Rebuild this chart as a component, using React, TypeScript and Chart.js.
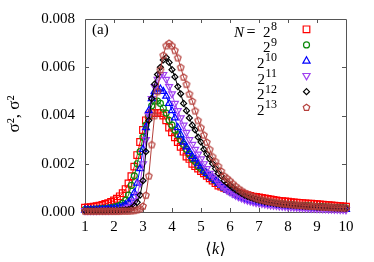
import React, { useEffect, useRef } from 'react';
import { Chart, registerables } from 'chart.js';

Chart.register(...registerables);

const kValues = [
  1.0, 1.1, 1.2, 1.3, 1.4, 1.5, 1.6, 1.7, 1.8, 1.9,
  2.0, 2.1, 2.2, 2.3, 2.4, 2.5, 2.6, 2.7, 2.8, 2.9,
  3.0, 3.1, 3.2, 3.3, 3.4, 3.5, 3.6, 3.7, 3.8, 3.9,
  4.0, 4.1, 4.2, 4.3, 4.4, 4.5, 4.6, 4.7, 4.8, 4.9,
  5.0, 5.1, 5.2, 5.3, 5.4, 5.5, 5.6, 5.7, 5.8, 5.9,
  6.0, 6.1, 6.2, 6.3, 6.4, 6.5, 6.6, 6.7, 6.8, 6.9,
  7.0, 7.1, 7.2, 7.3, 7.4, 7.5, 7.6, 7.7, 7.8, 7.9,
  8.0, 8.1, 8.2, 8.3, 8.4, 8.5, 8.6, 8.7, 8.8, 8.9,
  9.0, 9.1, 9.2, 9.3, 9.4, 9.5, 9.6, 9.7, 9.8, 9.9,
  10.0,
];

const sigmaN8 = [
  0.00018, 0.00019, 0.0002, 0.00022, 0.00024, 0.00026, 0.00029, 0.00033, 0.00037, 0.00042,
  0.00048, 0.00055, 0.00065, 0.00078, 0.00095, 0.00118, 0.00148, 0.00188, 0.00236, 0.0029,
  0.0034, 0.0038, 0.004, 0.0041, 0.0041, 0.0041, 0.0041, 0.004, 0.0038, 0.0035,
  0.0033, 0.0031, 0.0029, 0.0027, 0.0025, 0.0023, 0.0022, 0.002, 0.0019, 0.0018,
  0.0017, 0.0016, 0.0015, 0.0014, 0.0013, 0.0012, 0.0011, 0.00105, 0.001, 0.00095,
  0.0009, 0.00086, 0.00082, 0.00079, 0.00076, 0.00073, 0.0007, 0.00067, 0.00064, 0.00062,
  0.0006, 0.00058, 0.00056, 0.00054, 0.00052, 0.0005, 0.00048, 0.00046, 0.00045, 0.00044,
  0.00043, 0.00041, 0.0004, 0.00039, 0.00038, 0.00037, 0.00036, 0.00035, 0.00034, 0.00033,
  0.00032, 0.00031, 0.0003, 0.00029, 0.00028, 0.00027, 0.00026, 0.00025, 0.00024, 0.00023,
  0.00022,
];

const sigmaN9 = [
  0.0001, 0.0001, 0.00011, 0.00011, 0.00012, 0.00013, 0.00014, 0.00015, 0.00016, 0.00018,
  0.0002, 0.00023, 0.00028, 0.00036, 0.00048, 0.0007, 0.0011, 0.0015, 0.002, 0.0025,
  0.0031, 0.0036, 0.004, 0.0044, 0.0046, 0.0046, 0.0045, 0.0043, 0.0041, 0.0038,
  0.0036, 0.0034, 0.0032, 0.003, 0.0028, 0.0026, 0.0024, 0.0022, 0.0021, 0.0019,
  0.0018, 0.0017, 0.0016, 0.0015, 0.0014, 0.0013, 0.0012, 0.0011, 0.001, 0.00093,
  0.00086, 0.0008, 0.00074, 0.00069, 0.00064, 0.0006, 0.00057, 0.00054, 0.00051, 0.00048,
  0.00046, 0.00044, 0.00042, 0.0004, 0.00038, 0.00037, 0.00035, 0.00034, 0.00033, 0.00032,
  0.00031, 0.0003, 0.00029, 0.00028, 0.00027, 0.00026, 0.00025, 0.00025, 0.00024, 0.00023,
  0.00022, 0.00022, 0.00021, 0.0002, 0.0002, 0.00019, 0.00018, 0.00018, 0.00017, 0.00017,
  0.00016,
];

const sigmaN10 = [
  0.00008, 0.00008, 0.00008, 0.00009, 0.00009, 0.0001, 0.0001, 0.00011, 0.00012, 0.00013,
  0.00014, 0.00016, 0.00019, 0.00023, 0.0003, 0.0004, 0.00055, 0.0008, 0.0012, 0.0018,
  0.0026, 0.0035, 0.0042, 0.0047, 0.005, 0.0051, 0.0051, 0.005, 0.0048, 0.0045,
  0.0042, 0.0039, 0.0035, 0.0032, 0.0029, 0.0027, 0.0025, 0.0023, 0.0022, 0.002,
  0.0019, 0.0017, 0.0016, 0.0015, 0.0014, 0.0013, 0.0012, 0.0011, 0.001, 0.00092,
  0.00085, 0.00078, 0.00071, 0.00065, 0.0006, 0.00055, 0.00051, 0.00047, 0.00044, 0.00041,
  0.00039, 0.00037, 0.00035, 0.00033, 0.00031, 0.0003, 0.00029, 0.00027, 0.00026, 0.00025,
  0.00024, 0.00023, 0.00022, 0.00021, 0.00021, 0.0002, 0.00019, 0.00018, 0.00018, 0.00017,
  0.00016, 0.00016, 0.00015, 0.00015, 0.00014, 0.00014, 0.00013, 0.00013, 0.00012, 0.00012,
  0.00011,
];

const sigmaN11 = [
  0.00006, 0.00006, 0.00006, 0.00006, 0.00006, 0.00007, 0.00007, 0.00007, 0.00007, 0.00008,
  0.00008, 0.00009, 0.0001, 0.00012, 0.00015, 0.0002, 0.0003, 0.00045, 0.0007, 0.0012,
  0.002, 0.003, 0.004, 0.0047, 0.0052, 0.0055, 0.0057, 0.0057, 0.0055, 0.0052,
  0.0049, 0.0045, 0.0042, 0.0039, 0.0036, 0.0033, 0.003, 0.0028, 0.0026, 0.0024,
  0.0022, 0.002, 0.0018, 0.0016, 0.0015, 0.0014, 0.0012, 0.0011, 0.001, 0.0009,
  0.00083, 0.00076, 0.00069, 0.00063, 0.00058, 0.00053, 0.00049, 0.00045, 0.00042, 0.00039,
  0.00037, 0.00035, 0.00033, 0.00031, 0.00029, 0.00028, 0.00027, 0.00025, 0.00024, 0.00023,
  0.00022, 0.00021, 0.0002, 0.00019, 0.00018, 0.00018, 0.00017, 0.00016, 0.00015, 0.00015,
  0.00014, 0.00014, 0.00013, 0.00013, 0.00012, 0.00012, 0.00011, 0.00011, 0.0001, 0.0001,
  0.00009,
];

const sigmaN12 = [
  0.00005, 0.00005, 0.00005, 0.00005, 0.00005, 0.00005, 0.00005, 0.00005, 0.00006, 0.00006,
  0.00006, 0.00006, 0.00007, 0.00008, 0.00009, 0.0001, 0.00015, 0.00025, 0.0004, 0.0007,
  0.0013, 0.0025, 0.0038, 0.0047, 0.0053, 0.0057, 0.006, 0.0063, 0.0064, 0.0062,
  0.0059, 0.0056, 0.0052, 0.0049, 0.0045, 0.0042, 0.0039, 0.0036, 0.0034, 0.0031,
  0.0029, 0.0026, 0.0024, 0.0022, 0.002, 0.0018, 0.0016, 0.0015, 0.0013, 0.0012,
  0.0011, 0.001, 0.00092, 0.00084, 0.00077, 0.0007, 0.00065, 0.0006, 0.00056, 0.00052,
  0.00049, 0.00046, 0.00043, 0.00041, 0.00039, 0.00037, 0.00035, 0.00034, 0.00032, 0.00031,
  0.0003, 0.00029, 0.00028, 0.00027, 0.00026, 0.00025, 0.00024, 0.00023, 0.00022, 0.00022,
  0.00021, 0.0002, 0.0002, 0.00019, 0.00018, 0.00018, 0.00017, 0.00017, 0.00016, 0.00016,
  0.00015,
];

const sigmaN13 = [
  0.00004, 0.00004, 0.00004, 0.00004, 0.00004, 0.00004, 0.00004, 0.00004, 0.00004, 0.00004,
  0.00004, 0.00004, 0.00004, 0.00005, 0.00005, 0.00005, 0.00006, 0.00007, 0.0001, 0.00015,
  0.00025, 0.0007, 0.0015, 0.0028, 0.004, 0.005, 0.0059, 0.0065, 0.0069, 0.007,
  0.0069, 0.0067, 0.0064, 0.006, 0.0056, 0.0053, 0.0049, 0.0046, 0.0042, 0.0038,
  0.0035, 0.0032, 0.0029, 0.0026, 0.0023, 0.0021, 0.0019, 0.0017, 0.0015, 0.0014,
  0.0013, 0.00118, 0.00107, 0.00097, 0.00089, 0.00081, 0.00075, 0.00069, 0.00064, 0.00059,
  0.00055, 0.00052, 0.00049, 0.00046, 0.00044, 0.00042, 0.0004, 0.00038, 0.00036, 0.00035,
  0.00034, 0.00032, 0.00031, 0.0003, 0.00029, 0.00028, 0.00027, 0.00026, 0.00025, 0.00025,
  0.00024, 0.00023, 0.00022, 0.00022, 0.00021, 0.0002, 0.0002, 0.00019, 0.00019, 0.00018,
  0.00018,
];

const exponents = ['8', '9', '10', '11', '12', '13'];
const seriesValues = [sigmaN8, sigmaN9, sigmaN10, sigmaN11, sigmaN12, sigmaN13];
const seriesColors = ['#ff0000', '#0a8a0a', '#0000ff', '#a040f0', '#000000', '#b5403c'];
const seriesMarkers = ['square', 'circle', 'triangle', 'triangleDown', 'diamond', 'pentagon'];
const xTickValues = [1, 2, 3, 4, 5, 6, 7, 8, 9, 10];
const yTickValues = [0, 0.002, 0.004, 0.006, 0.008];

const SERIF = '"Liberation Serif", "DejaVu Serif", serif';

function pathMarker(ctx: CanvasRenderingContext2D, kind: string, x: number, y: number) {
  ctx.beginPath();
  if (kind === 'square') {
    ctx.rect(x - 3.3, y - 3.3, 6.6, 6.6);
  } else if (kind === 'circle') {
    ctx.arc(x, y, 3, 0, Math.PI * 2);
  } else if (kind === 'triangle') {
    ctx.moveTo(x, y - 3.8);
    ctx.lineTo(x + 3.6, y + 2.6);
    ctx.lineTo(x - 3.6, y + 2.6);
    ctx.closePath();
  } else if (kind === 'triangleDown') {
    ctx.moveTo(x, y + 3.8);
    ctx.lineTo(x + 3.6, y - 2.6);
    ctx.lineTo(x - 3.6, y - 2.6);
    ctx.closePath();
  } else if (kind === 'diamond') {
    ctx.moveTo(x, y - 3);
    ctx.lineTo(x + 3, y);
    ctx.lineTo(x, y + 3);
    ctx.lineTo(x - 3, y);
    ctx.closePath();
  } else {
    for (let i = 0; i < 5; i++) {
      const a = -Math.PI / 2 + (i * 2 * Math.PI) / 5;
      const px = x + 3.4 * Math.cos(a);
      const py = y + 0.3 + 3.4 * Math.sin(a);
      if (i === 0) ctx.moveTo(px, py);
      else ctx.lineTo(px, py);
    }
    ctx.closePath();
  }
}

function makeMarkerCanvas(kind: string, color: string) {
  const c = document.createElement('canvas');
  c.width = 10;
  c.height = 10;
  const ctx = c.getContext('2d')!;
  ctx.strokeStyle = color;
  ctx.lineWidth = 1.2;
  pathMarker(ctx, kind, 5, 5);
  ctx.stroke();
  return c;
}

const decorPlugin = {
  id: 'decor',
  beforeDatasetsDraw(chart: any) {
    const { ctx, chartArea } = chart;
    const { left, right, top, bottom } = chartArea;
    const xs = chart.scales.x;
    const ys = chart.scales.y;
    ctx.save();
    ctx.strokeStyle = '#555555';
    ctx.lineWidth = 1;
    ctx.beginPath();
    ctx.rect(Math.round(left) + 0.5, Math.round(top) + 0.5, Math.round(right - left), Math.round(bottom - top));
    ctx.stroke();
    ctx.beginPath();
    const tl = 4;
    xTickValues.forEach((v) => {
      const px = Math.round(xs.getPixelForValue(v)) + 0.5;
      if (v === xs.min || v === xs.max) return;
      ctx.moveTo(px, bottom);
      ctx.lineTo(px, bottom - tl);
      ctx.moveTo(px, top);
      ctx.lineTo(px, top + tl);
    });
    yTickValues.forEach((v) => {
      const py = Math.round(ys.getPixelForValue(v)) + 0.5;
      if (v === ys.min || v === ys.max) return;
      ctx.moveTo(left, py);
      ctx.lineTo(left + tl, py);
      ctx.moveTo(right, py);
      ctx.lineTo(right - tl, py);
    });
    ctx.stroke();
    ctx.restore();
  },
  afterDraw(chart: any) {
    const { ctx, chartArea } = chart;
    ctx.save();
    ctx.fillStyle = '#000';
    ctx.textBaseline = 'alphabetic';

    // panel label
    ctx.font = `15px ${SERIF}`;
    ctx.textAlign = 'left';
    ctx.fillText('(a)', 92, 34);

    // legend
    const expRight = 277;
    for (let i = 0; i < exponents.length; i++) {
      const symY = 29.3 + i * 15.6;
      ctx.font = `12px ${SERIF}`;
      ctx.textAlign = 'right';
      const ew = ctx.measureText(exponents[i]).width;
      ctx.fillText(exponents[i], expRight, symY + 0.8);
      ctx.font = `15px ${SERIF}`;
      const baseRight = expRight - ew - 0.5;
      ctx.fillText('2', baseRight, symY + 7.4);
      if (i === 0) {
        const bw = ctx.measureText('2').width;
        ctx.textAlign = 'center';
        ctx.font = `16px ${SERIF}`;
        ctx.fillText('=', baseRight - bw - 12, symY + 7.4);
        ctx.font = `italic 15px ${SERIF}`;
        ctx.textAlign = 'right';
        ctx.fillText('N', baseRight - bw - 19, symY + 7.4);
      }
      ctx.strokeStyle = seriesColors[i];
      ctx.lineWidth = 1.2;
      pathMarker(ctx, seriesMarkers[i], 306.5, symY);
      ctx.stroke();
    }

    // x title  <k>
    const cx = (chartArea.left + chartArea.right) / 2;
    ctx.font = `16px ${SERIF}`;
    const lb = '\u27E8';
    const rb = '\u27E9';
    const wl = ctx.measureText(lb).width;
    const wr = ctx.measureText(rb).width;
    ctx.font = `italic 16px ${SERIF}`;
    const wk = ctx.measureText('k').width;
    const total = wl + wk + wr + 1;
    const x0 = cx - total / 2;
    ctx.textAlign = 'left';
    ctx.font = `16px ${SERIF}`;
    ctx.fillText(lb, x0, 254);
    ctx.font = `italic 16px ${SERIF}`;
    ctx.fillText('k', x0 + wl + 0.5, 254);
    ctx.font = `16px ${SERIF}`;
    ctx.fillText(rb, x0 + wl + wk + 1, 254);

    // y title
    ctx.translate(19, 114);
    ctx.rotate(-Math.PI / 2);
    ctx.font = `17px ${SERIF}`;
    ctx.textAlign = 'center';
    ctx.fillText('\u03C3\u00B2, \u03C3\u00B2', 0, 0);
    ctx.restore();
  },
};

export default function App() {
  const ref = useRef<HTMLCanvasElement | null>(null);

  useEffect(() => {
    document.body.style.margin = '0';
    const canvas = ref.current!;
    const datasets = seriesValues.map((vals, i) => {
      const kind = seriesMarkers[i];
      const color = seriesColors[i];
      let pointStyle: any = 'rect';
      let pointRadius = 4.7;
      let pointRotation = 0;
      if (kind === 'circle') { pointStyle = 'circle'; pointRadius = 3; }
      if (kind === 'triangle') { pointStyle = 'triangle'; pointRadius = 4; }
      if (kind === 'triangleDown') { pointStyle = 'triangle'; pointRadius = 4; pointRotation = 180; }
      if (kind === 'diamond') { pointStyle = 'rectRot'; pointRadius = 3; }
      if (kind === 'pentagon') { pointStyle = makeMarkerCanvas('pentagon', color); pointRadius = 4; }
      return {
        label: 'N = 2^' + exponents[i],
        data: kValues.map((k, j) => ({ x: k, y: vals[j] })),
        borderColor: color,
        backgroundColor: 'rgba(0,0,0,0)',
        pointBorderColor: color,
        pointBackgroundColor: 'rgba(0,0,0,0)',
        borderWidth: 1,
        pointBorderWidth: 1.2,
        pointStyle,
        pointRadius,
        pointRotation,
        tension: 0,
        clip: false as any,
        order: 6 - i,
      };
    });

    const chart = new Chart(canvas, {
      type: 'line',
      data: { datasets },
      options: {
        animation: false,
        responsive: false,
        devicePixelRatio: 1,
        events: [],
        layout: { padding: { left: 0, right: 28, top: 19, bottom: 0 } },
        plugins: { legend: { display: false }, tooltip: { enabled: false } },
        scales: {
          x: {
            type: 'linear',
            min: 1,
            max: 10,
            afterBuildTicks: (s: any) => { s.ticks = xTickValues.map((v) => ({ value: v })); },
            ticks: { font: { family: SERIF, size: 15 }, color: '#000', padding: 6, maxRotation: 0, autoSkip: false },
            grid: { display: false, drawTicks: false },
            border: { display: false },
            afterFit: (s: any) => { s.height = 50; },
          },
          y: {
            type: 'linear',
            min: 0,
            max: 0.008,
            afterBuildTicks: (s: any) => { s.ticks = yTickValues.map((v) => ({ value: v })); },
            ticks: {
              font: { family: SERIF, size: 15 },
              color: '#000',
              padding: 10,
              callback: (v: any) => Number(v).toFixed(3),
            },
            grid: { display: false, drawTicks: false },
            border: { display: false },
            afterFit: (s: any) => { s.width = 85; },
          },
        },
      },
      plugins: [decorPlugin],
    } as any);
    return () => chart.destroy();
  }, []);

  return <canvas ref={ref} width={374} height={262} style={{ display: 'block' }} />;
}
